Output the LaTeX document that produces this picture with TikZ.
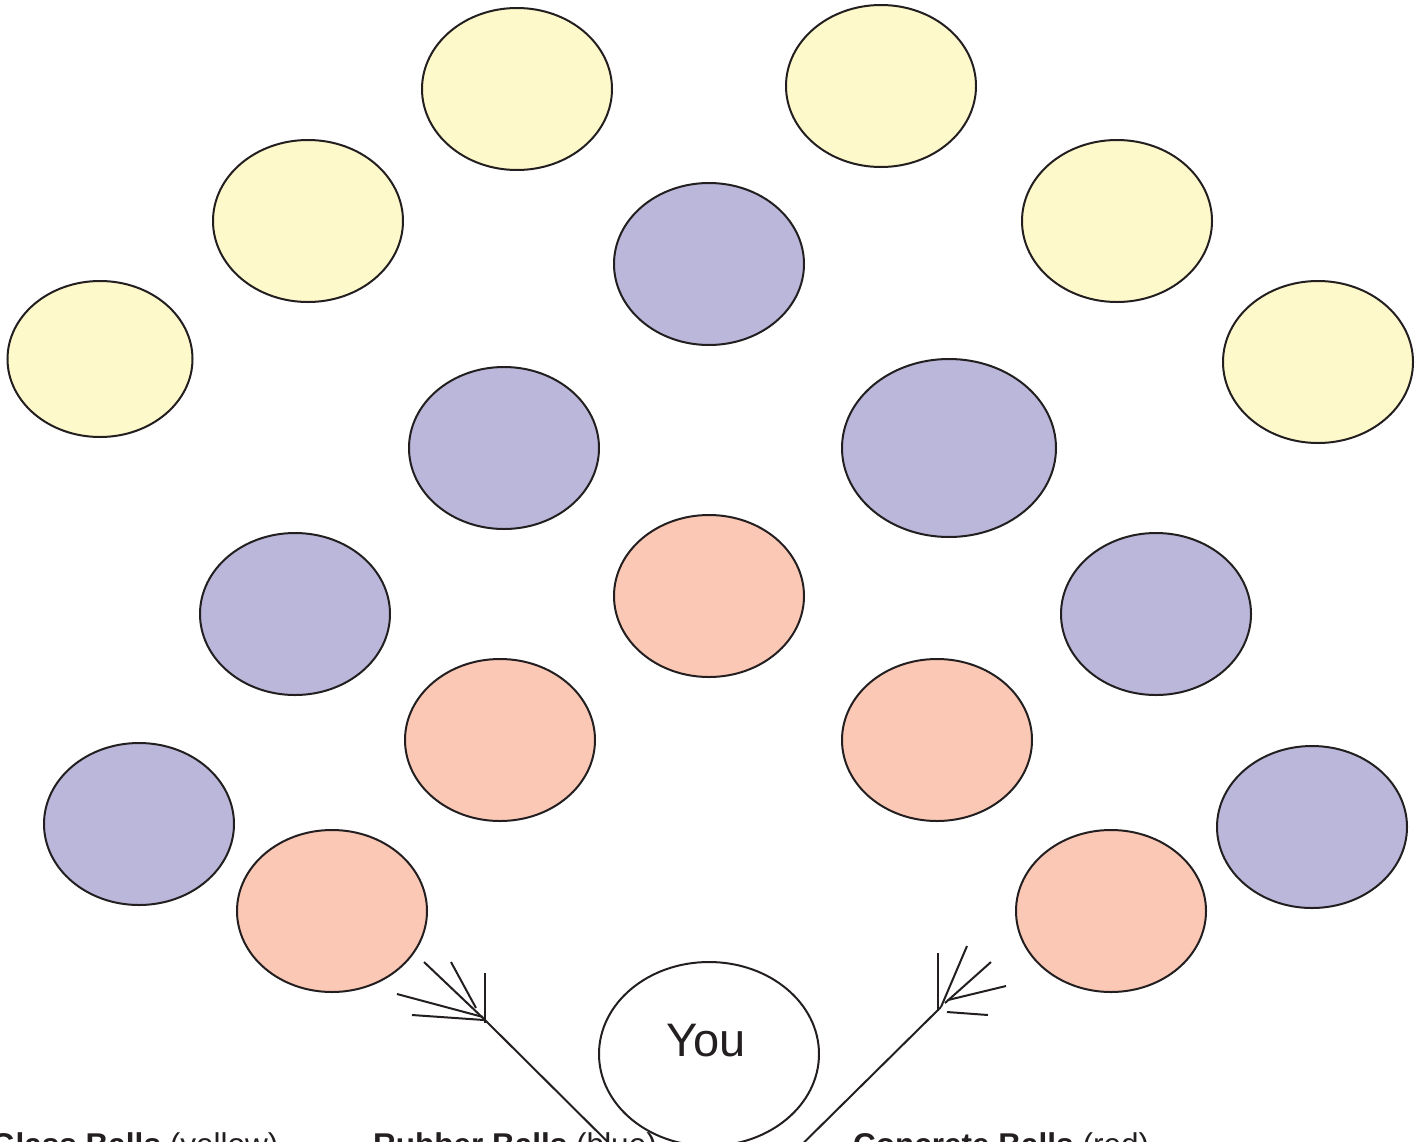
\documentclass[tikz,border=0pt]{standalone}
\usepackage{fontspec}
\setmainfont{Liberation Sans}
\usetikzlibrary{shapes.geometric}
\definecolor{ink}{HTML}{231F20}
\definecolor{glass}{HTML}{FEF9CA}
\definecolor{rubber}{HTML}{BBB7DA}
\definecolor{concrete}{HTML}{FBC8B5}
\tikzset{
  ball/.style={ellipse, draw=ink, line width=2pt, inner sep=0pt,
    minimum width=190pt, minimum height=162pt},
  gball/.style={ball, fill=glass},
  rball/.style={ball, fill=rubber},
  cball/.style={ball, fill=concrete},
  conn/.style={draw=ink, line width=2pt},
  legend/.style={anchor=base west, inner sep=0pt, text=ink, font=\fontsize{31.5}{36}\selectfont}
}
\begin{document}
\begin{tikzpicture}[x=1pt,y=-1pt]
\useasboundingbox (0,0) rectangle (1424,1141);
% glass balls (yellow)
\node[gball] (g1) at (517,89) {};
\node[gball] (g2) at (881,86) {};
\node[gball] (g3) at (308,221) {};
\node[gball] (g4) at (1117,221) {};
\node[gball, minimum width=185pt, minimum height=156pt] (g5) at (100,359) {};
\node[gball] (g6) at (1318,362) {};
% rubber balls (blue)
\node[rball] (r1) at (709,264) {};
\node[rball] (r2) at (504,448) {};
\node[rball, minimum width=214pt, minimum height=178pt] (r3) at (949,448) {};
\node[rball] (r4) at (295,614) {};
\node[rball] (r5) at (1156,614) {};
\node[rball] (r6) at (139,824) {};
\node[rball] (r7) at (1312,827) {};
% concrete balls (red)
\node[cball] (c1) at (709,596) {};
\node[cball] (c2) at (500,740) {};
\node[cball] (c3) at (937,740) {};
\node[cball] (c4) at (332,911) {};
\node[cball] (c5) at (1111,911) {};
% you
\node[ball, fill=white, minimum width=220pt, minimum height=184pt] (you) at (709,1054) {};
\node[inner sep=0pt, text=ink, font=\fontsize{47}{56}\selectfont] (youlbl) at (706,1041) {You};
% left arrow
\coordinate (ltail) at (650,1184);
\coordinate (ltip) at (484,1019);
\coordinate (la) at (424,962);
\coordinate (lb1) at (451,962);
\coordinate (lb2) at (476,1008);
\coordinate (lc1) at (485,973);
\coordinate (lc2) at (485,1023);
\coordinate (ld1) at (397,994);
\coordinate (ld2) at (483,1017);
\coordinate (le1) at (412,1015);
\coordinate (le2) at (484,1020);
\draw[conn] (ltail) -- (ltip);
\draw[conn] (la) -- (ltip);
\draw[conn] (lb1) -- (lb2);
\draw[conn] (lc1) -- (lc2);
\draw[conn] (ld1) -- (ld2);
\draw[conn] (le1) -- (le2);
% right arrow
\coordinate (rtail) at (770,1176);
\coordinate (rtip) at (941,1007);
\coordinate (ra1) at (938,953);
\coordinate (ra2) at (938,1011);
\coordinate (rb) at (967,946);
\coordinate (rc1) at (991,962);
\coordinate (rc2) at (945,1003);
\coordinate (rd1) at (1006,986);
\coordinate (rd2) at (948,1000);
\coordinate (re1) at (947,1012);
\coordinate (re2) at (988,1015);
\draw[conn] (rtail) -- (rtip);
\draw[conn] (ra1) -- (ra2);
\draw[conn] (rb) -- (rtip);
\draw[conn] (rc1) -- (rc2);
\draw[conn] (rd1) -- (rd2);
\draw[conn] (re1) -- (re2);
% legend
\node[legend] (lg) at (-9,1155) {\textbf{Glass Balls} (yellow)};
\node[legend] (lr) at (373,1155) {\textbf{Rubber Balls} (blue)};
\node[legend] (lc) at (853,1155) {\textbf{Concrete Balls} (red)};
\end{tikzpicture}
\end{document}
